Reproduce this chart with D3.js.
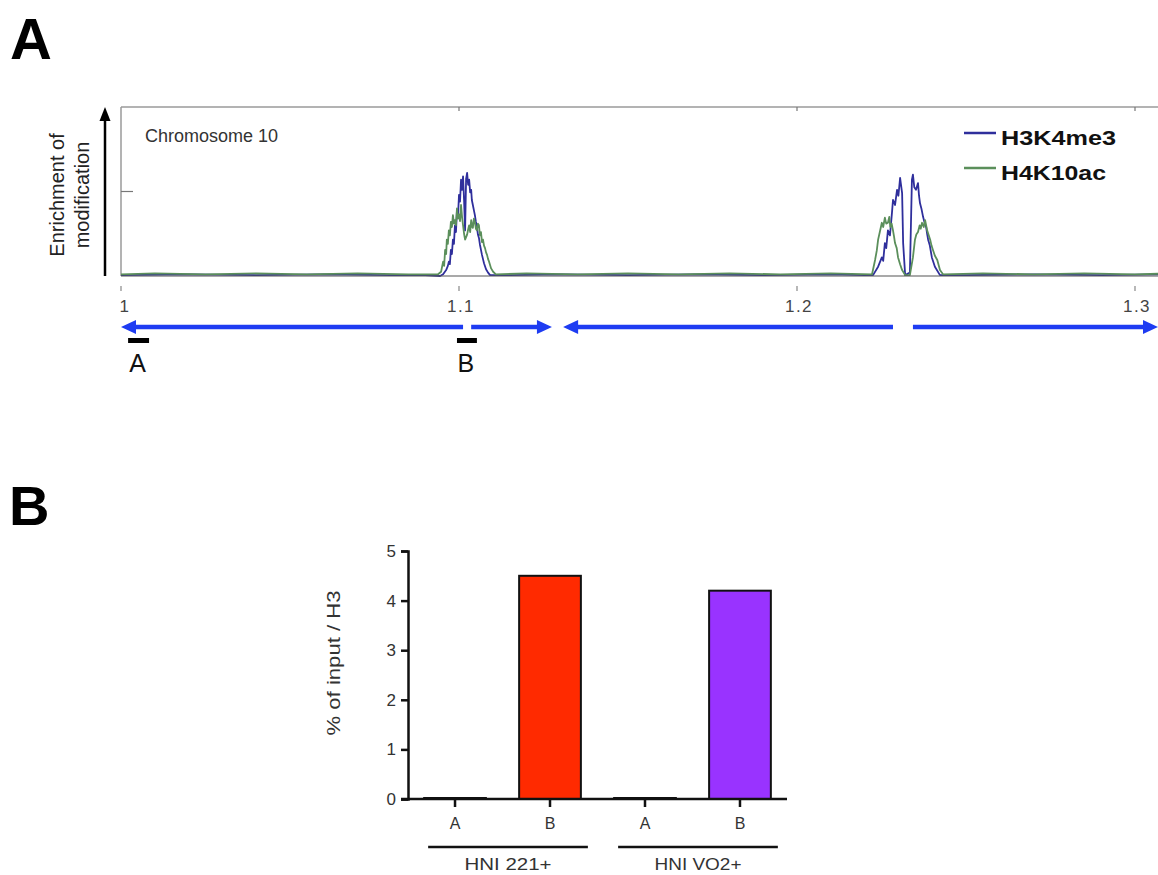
<!DOCTYPE html>
<html><head><meta charset="utf-8">
<script src="https://cdn.jsdelivr.net/npm/d3@7"></script>
<style>body{margin:0;background:#fff}text{font-family:"Liberation Sans",Arial,sans-serif}</style>
</head><body>
<svg id="c" width="1158" height="875"></svg>
<script>
// ---------- Panel A data (position in Mb, enrichment) ----------
const genomeTicks = [1, 1.1, 1.2, 1.3];
const genomeTickLabels = ["1", "1.1", "1.2", "1.3"];
const seriesNames = ["H3K4me3", "H4K10ac"];
const seriesColors = ["#2f2f9c", "#5b8f5b"];
const h3k4me3 = [
  [1.000,0.01],[1.020,0.02],[1.040,0.01],[1.060,0.02],[1.080,0.01],[1.0900,0.01],
  [1.0944,0.00],[1.0953,0.02],[1.0962,0.07],[1.0967,0.12],[1.0970,0.17],[1.0973,0.14],[1.0976,0.31],
  [1.0979,0.26],[1.0982,0.43],[1.0985,0.38],[1.0988,0.60],[1.0991,0.52],[1.0994,0.78],[1.0997,0.70],
  [1.1000,0.96],[1.1003,0.88],[1.1006,1.14],[1.1009,1.02],[1.1012,1.18],[1.1015,0.90],[1.1018,0.54],
  [1.1021,1.15],[1.1024,1.22],[1.1027,1.08],[1.1030,1.14],[1.1033,0.99],[1.1036,1.02],[1.1038,0.90],
  [1.1041,0.84],[1.1044,0.78],[1.1047,0.72],[1.1050,0.64],[1.1053,0.58],[1.1056,0.49],[1.1059,0.45],
  [1.1062,0.37],[1.1065,0.31],[1.1068,0.25],[1.1071,0.20],[1.1074,0.15],[1.1080,0.08],[1.1086,0.04],[1.1092,0.01],
  [1.115,0.01],[1.130,0.02],[1.150,0.01],[1.170,0.02],[1.190,0.01],[1.210,0.02],[1.2200,0.01],
  [1.2225,0.01],[1.2240,0.11],[1.2251,0.22],[1.2255,0.18],[1.2260,0.39],[1.2264,0.33],[1.2269,0.54],
  [1.2275,0.48],[1.2281,0.75],[1.2284,0.90],[1.2290,0.84],[1.2296,1.02],[1.2300,0.95],[1.2305,1.16],
  [1.2311,0.98],[1.2314,0.39],[1.2320,0.01],[1.2334,0.04],[1.2340,1.14],[1.2343,1.20],[1.2347,1.05],
  [1.2352,1.02],[1.2358,1.10],[1.2361,0.95],[1.2364,0.86],[1.2368,0.80],[1.2373,0.70],[1.2377,0.64],
  [1.2382,0.58],[1.2385,0.50],[1.2388,0.43],[1.2393,0.36],[1.2399,0.22],[1.2408,0.11],[1.2423,0.01],
  [1.250,0.01],[1.270,0.02],[1.290,0.01],[1.310,0.02]
];
const h4k10ac = [
  [1.000,0.02],[1.010,0.03],[1.025,0.02],[1.040,0.03],[1.055,0.02],[1.070,0.03],[1.085,0.02],
  [1.0938,0.02],[1.0947,0.05],[1.0953,0.17],[1.0956,0.12],[1.0959,0.31],[1.0962,0.26],[1.0964,0.43],
  [1.0967,0.38],[1.0970,0.54],[1.0973,0.48],[1.0976,0.64],[1.0979,0.58],[1.0982,0.72],[1.0985,0.62],
  [1.0988,0.66],[1.0991,0.60],[1.0994,0.80],[1.0997,0.68],[1.1000,0.73],[1.1003,0.65],[1.1006,0.84],
  [1.1009,0.70],[1.1012,0.60],[1.1015,0.50],[1.1018,0.43],[1.1021,0.46],[1.1024,0.49],[1.1027,0.55],
  [1.1030,0.60],[1.1033,0.52],[1.1036,0.66],[1.1039,0.58],[1.1041,0.57],[1.1044,0.68],[1.1047,0.64],
  [1.1050,0.56],[1.1053,0.54],[1.1056,0.62],[1.1059,0.60],[1.1062,0.48],[1.1065,0.52],[1.1068,0.40],
  [1.1071,0.43],[1.1074,0.36],[1.1077,0.33],[1.1080,0.28],[1.1083,0.25],[1.1086,0.20],[1.1089,0.17],
  [1.1095,0.09],[1.1101,0.05],[1.1109,0.02],
  [1.120,0.03],[1.135,0.02],[1.150,0.03],[1.165,0.02],[1.180,0.03],[1.195,0.02],[1.210,0.03],
  [1.2222,0.02],[1.2231,0.19],[1.2236,0.30],[1.2240,0.43],[1.2245,0.52],[1.2251,0.63],[1.2255,0.58],
  [1.2260,0.69],[1.2264,0.62],[1.2269,0.63],[1.2273,0.70],[1.2276,0.58],[1.2280,0.62],[1.2284,0.54],
  [1.2287,0.47],[1.2290,0.39],[1.2295,0.33],[1.2299,0.22],[1.2305,0.14],[1.2311,0.07],[1.2320,0.01],
  [1.2334,0.01],[1.2343,0.22],[1.2349,0.43],[1.2353,0.49],[1.2358,0.52],[1.2363,0.60],[1.2366,0.56],
  [1.2370,0.63],[1.2375,0.58],[1.2379,0.66],[1.2382,0.60],[1.2385,0.54],[1.2390,0.48],[1.2394,0.43],
  [1.2398,0.36],[1.2402,0.31],[1.2408,0.24],[1.2415,0.19],[1.2423,0.07],[1.2432,0.02],
  [1.255,0.03],[1.270,0.02],[1.285,0.03],[1.300,0.02],[1.310,0.03]
];
// genes: start, end, strand (-1 = reverse, +1 = forward)
const genes = [[1.0000, 1.1012, -1], [1.1036, 1.1275, 1], [1.1308, 1.2284, -1], [1.2343, 1.3068, 1]];
// amplicons: name, start, end
const amplicons = [["A", 1.0021, 1.0083], ["B", 1.0994, 1.1053]];

// ---------- Panel B data ----------
const barCategories = ["A", "B", "A ", "B "];
const barValues = [0.02, 4.5, 0.02, 4.2];
const barColors = ["#ffffff", "#ff2a00", "#ffffff", "#9933ff"];
const groupNames = ["HNI 221+", "HNI VO2+"];
const barTicks = [0, 1, 2, 3, 4, 5];

const FONT = "Liberation Sans, Arial, sans-serif";
const svg = d3.select("#c");

// Panel letters
svg.append("text").attr("x", 10).attr("y", 59).attr("font-size", 58).attr("font-weight", "bold").text("A");
svg.append("text").attr("x", 9).attr("y", 525).attr("font-size", 56).attr("font-weight", "bold").text("B");

// ---------- Panel A ----------
const x = d3.scaleLinear().domain([1, 1.31]).range([121, 121 + 0.31 * 3380]);
const y = d3.scaleLinear().domain([0, 2]).range([276, 107]);
const gA = svg.append("g");

// frame
gA.append("line").attr("x1", x(1)).attr("x2", 1158).attr("y1", y(2)).attr("y2", y(2)).attr("stroke", "#9a9a9a").attr("stroke-width", 1.5);
gA.append("line").attr("x1", x(1)).attr("x2", x(1)).attr("y1", y(2)).attr("y2", y(0)).attr("stroke", "#9a9a9a").attr("stroke-width", 1.5);
// top ticks
gA.selectAll(".tt").data(genomeTicks.slice(1)).join("line")
  .attr("x1", d => x(d)).attr("x2", d => x(d)).attr("y1", y(2)).attr("y2", y(2) + 4)
  .attr("stroke", "#777").attr("stroke-width", 1.2);
// y tick
gA.append("line").attr("x1", x(1)).attr("x2", x(1) + 12).attr("y1", y(1)).attr("y2", y(1)).attr("stroke", "#777").attr("stroke-width", 1.2);

// series
const line = d3.line().x(d => x(d[0])).y(d => y(d[1]));
[h3k4me3, h4k10ac].forEach((s, i) => {
  gA.append("path").datum(s).attr("d", line).attr("fill", "none")
    .attr("stroke", seriesColors[i]).attr("stroke-width", 1.8).attr("stroke-linejoin", "round");
});
// baseline
gA.append("line").attr("x1", x(1)).attr("x2", 1158).attr("y1", y(0)).attr("y2", y(0)).attr("stroke", "#555").attr("stroke-width", 1.2);

// bottom ticks and labels
gA.selectAll(".bt").data(genomeTicks).join("line")
  .attr("x1", d => x(d)).attr("x2", d => x(d)).attr("y1", 286).attr("y2", 291)
  .attr("stroke", "#888").attr("stroke-width", 1.2);
gA.selectAll(".bl").data(genomeTicks).join("text")
  .attr("x", (d, i) => x(d) + (i === 0 ? 4 : 2)).attr("y", 312).attr("text-anchor", "middle")
  .attr("font-size", 17).attr("fill", "#444").attr("letter-spacing", 1.5).text((d, i) => genomeTickLabels[i]);

// title inside
gA.append("text").attr("x", 145).attr("y", 142).attr("font-size", 18).attr("fill", "#333").text("Chromosome 10");

// legend
seriesNames.forEach((n, i) => {
  const ly = 133 + i * 35;
  gA.append("line").attr("x1", 964).attr("x2", 996).attr("y1", ly).attr("y2", ly).attr("stroke", seriesColors[i]).attr("stroke-width", 2.5);
  gA.append("text").attr("x", 1001).attr("y", ly + 12).attr("font-size", 21).attr("font-weight", "bold").attr("fill", "#111")
    .attr("textLength", i === 0 ? 115 : 105).attr("lengthAdjust", "spacingAndGlyphs").text(n);
});

// y axis label with arrow
gA.append("line").attr("x1", 105).attr("x2", 105).attr("y1", y(0)).attr("y2", 118).attr("stroke", "#000").attr("stroke-width", 2.5);
gA.append("path").attr("d", "M105,107 L99.5,121 L110.5,121 Z").attr("fill", "#000");
gA.append("text").attr("transform", "translate(64,195) rotate(-90)").attr("text-anchor", "middle").attr("font-size", 20).attr("fill", "#222").text("Enrichment of");
gA.append("text").attr("transform", "translate(89,195) rotate(-90)").attr("text-anchor", "middle").attr("font-size", 20).attr("fill", "#222").text("modification");

// genes
const arrowY = 327, headL = 15, headH = 7;
genes.forEach(([s, e, strand]) => {
  const x0 = x(s), x1 = x(e);
  const lx0 = strand < 0 ? x0 + headL - 1 : x0;
  const lx1 = strand > 0 ? x1 - headL + 1 : x1;
  gA.append("line").attr("x1", lx0).attr("x2", lx1).attr("y1", arrowY).attr("y2", arrowY).attr("stroke", "#1e3cf2").attr("stroke-width", 4.5);
  const tip = strand < 0 ? x0 : x1;
  const base = strand < 0 ? x0 + headL : x1 - headL;
  gA.append("path").attr("d", `M${tip},${arrowY} L${base},${arrowY - headH} L${base},${arrowY + headH} Z`).attr("fill", "#1e3cf2");
});

// amplicons
amplicons.forEach(([n, s, e]) => {
  gA.append("rect").attr("x", x(s)).attr("y", 338).attr("width", x(e) - x(s)).attr("height", 5).attr("fill", "#000");
  gA.append("text").attr("x", (x(s) + x(e)) / 2 - 1).attr("y", 372).attr("text-anchor", "middle").attr("font-size", 25).attr("fill", "#111").text(n);
});

// ---------- Panel B ----------
const xb = d3.scaleBand().domain(barCategories).range([408, 787]).paddingInner(0.35).paddingOuter(0.17);
const yb = d3.scaleLinear().domain([0, 5]).range([799, 551]);
const gB = svg.append("g");

gB.selectAll(".bar").data(barValues).join("rect")
  .attr("x", (d, i) => xb(barCategories[i])).attr("width", xb.bandwidth())
  .attr("y", d => yb(d)).attr("height", d => yb(0) - yb(d))
  .attr("fill", (d, i) => barColors[i]).attr("stroke", "#111").attr("stroke-width", 2);

// y axis
const yAxis = d3.axisLeft(yb).tickValues(barTicks).tickSize(7).tickPadding(5).tickFormat(d3.format("d"));
const ya = gB.append("g").attr("transform", "translate(408,0)").call(yAxis);
ya.select(".domain").attr("stroke", "#111").attr("stroke-width", 2.5);
ya.selectAll(".tick line").attr("stroke", "#111").attr("stroke-width", 2.5);
ya.selectAll(".tick text").attr("font-size", 17).attr("fill", "#333").attr("font-family", FONT);

// x axis
const xAxis = d3.axisBottom(xb).tickSize(8).tickPadding(11).tickSizeOuter(0);
const xa = gB.append("g").attr("transform", `translate(0,${yb(0)})`).call(xAxis);
xa.select(".domain").attr("stroke", "#111").attr("stroke-width", 2.5).attr("d", "M401,0H787");
xa.selectAll(".tick line").attr("stroke", "#111").attr("stroke-width", 2.5);
xa.selectAll(".tick text").attr("font-size", 16).attr("fill", "#333").attr("font-family", FONT);

// group lines
groupNames.forEach((g, i) => {
  const c0 = barCategories[i * 2], c1 = barCategories[i * 2 + 1];
  const gx0 = xb(c0) + 4, gx1 = xb(c1) + xb.bandwidth() + 7;
  gB.append("line").attr("x1", gx0).attr("x2", gx1).attr("y1", 847).attr("y2", 847).attr("stroke", "#111").attr("stroke-width", 2.5);
  gB.append("text").attr("x", (gx0 + gx1) / 2).attr("y", 870).attr("text-anchor", "middle").attr("font-size", 17).attr("fill", "#333")
    .attr("textLength", 87).attr("lengthAdjust", "spacingAndGlyphs").text(g);
});

// y label
gB.append("text").attr("transform", "translate(340,663) rotate(-90)").attr("text-anchor", "middle").attr("font-size", 19).attr("fill", "#333")
  .attr("textLength", 145).attr("lengthAdjust", "spacingAndGlyphs").text("% of input / H3");
</script>
</body></html>
